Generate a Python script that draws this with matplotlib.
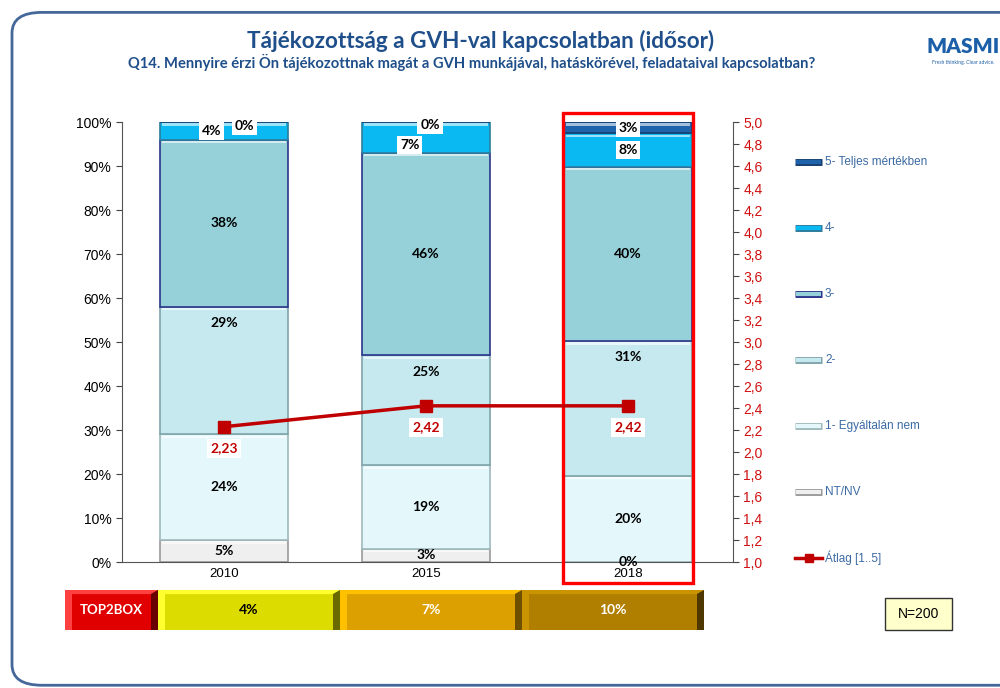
import matplotlib.pyplot as plt
from matplotlib.patches import Rectangle, FancyBboxPatch, Polygon
from matplotlib.lines import Line2D
import numpy as np

# data
years = ['2010', '2015', '2018']
labels = ['NT/NV', '1- Egyáltalán nem', '2-', '3-', '4-', '5- Teljes mértékben']
nt_nv = [5, 3, 0]
cat1 = [24, 19, 19.6]
cat2 = [29, 25, 30.6]
cat3 = [38, 46, 39.6]
cat4 = [4, 7, 7.6]
cat5 = [0, 0, 2.6]
atlag = [2.23, 2.42, 2.42]
n_text = 'N=200'

colors = ['#efefef', '#e4f8fb', '#c5e9ee', '#96d1d9', '#0ab8f2', '#1f63aa']
edges = ['#9a9a9a', '#9fb9bd', '#7fa4aa', '#2b3589', '#2d7c9c', '#163f70']
red = '#c00000'
blue_txt = '#3b6aa3'
title_col = '#1f4f8a'

data = np.array([nt_nv, cat1, cat2, cat3, cat4, cat5])
top2 = data[4] + data[5]

fig = plt.figure(figsize=(10, 6.88), dpi=100)
ax = fig.add_axes([0.122, 0.1831, 0.611, 0.6395])
x = np.arange(len(years))
w = 0.63

bottom = np.zeros(len(years))
# label nudges (series, year) -> (dx, dy)
nudge = {(4, 0): (-0.06, 0.0), (5, 0): (0.1, -1.0), (4, 1): (-0.08, -1.7), (5, 1): (0.02, -0.7)}
for i, vals in enumerate(data):
    ax.bar(x, vals, w, bottom=bottom, color=colors[i], edgecolor=edges[i], linewidth=1.2, zorder=2)
    # light bevel along the top of every segment
    ax.bar(x, np.minimum(vals, 0.5), w - 0.02, bottom=bottom + vals - np.minimum(vals, 0.5) - 0.3,
           color='white', alpha=0.6, linewidth=0, zorder=3)
    for j, v in enumerate(vals):
        if i == 2:
            yy = bottom[j] + v - 3.7
        else:
            yy = bottom[j] + v / 2
        dx, dy = nudge.get((i, j), (0, 0))
        ax.text(x[j] + dx, yy + dy, f'{v:.0f}%', ha='center', va='center', fontsize=10,
                fontweight='bold', family='Lato', zorder=5,
                bbox=dict(boxstyle='square,pad=0.2', fc='white', ec='none') if i >= 4 else None)
    bottom += vals

ax.set_xlim(-0.505, 2.52)
ax.set_ylim(0, 100)
ax.set_yticks(np.arange(0, 101, 10))
ax.set_yticklabels([f'{t}%' for t in range(0, 101, 10)], fontsize=10, family='Liberation Sans')
ax.set_xticks(x)
ax.set_xticklabels(years, fontsize=9.5, family='Liberation Sans')
ax.tick_params(axis='x', length=0, pad=4)
ax.tick_params(axis='y', length=4, direction='out', color='#444444')
for s in ['top', 'right']:
    ax.spines[s].set_visible(False)
ax.spines['left'].set_color('#555555')
ax.spines['bottom'].set_color('#555555')

ax2 = ax.twinx()
ax2.set_ylim(1, 5)
ticks2 = np.arange(1.0, 5.01, 0.2)
ax2.set_yticks(ticks2)
ax2.set_yticklabels([f'{t:.1f}'.replace('.', ',') for t in ticks2], color='#d01010',
                    fontsize=10, family='Liberation Sans')
ax2.tick_params(axis='y', length=4, color='#444444')
for s in ['top', 'left', 'bottom']:
    ax2.spines[s].set_visible(False)
ax2.spines['right'].set_color('#555555')
ax2.plot(x, atlag, color=red, lw=2.5, marker='s', markersize=8, zorder=4)
for j, v in enumerate(atlag):
    ax2.annotate(f'{v:.2f}'.replace('.', ','), (x[j], v), xytext=(0, -15.5), textcoords='offset points',
                 ha='center', va='center', color=red, fontsize=10, fontweight='bold', family='Lato',
                 bbox=dict(boxstyle='square,pad=0.25', fc='white', ec='none'))

# highlight 2018
ax.add_patch(Rectangle((2 - 0.322, -4.8), 0.644, 106.8, fill=False, ec='#ff0000', lw=2.4,
                       clip_on=False, zorder=6))

# titles
fig.text(0.481, 0.941, 'Tájékozottság a GVH-val kapcsolatban (idősor)', ha='center', va='center',
         fontsize=16.2, fontweight='bold', color=title_col, family='Lato')
fig.text(0.472, 0.909, 'Q14. Mennyire érzi Ön tájékozottnak magát a GVH munkájával, hatáskörével, '
         'feladataival kapcsolatban?', ha='center', va='center', fontsize=10.6, fontweight='bold',
         color=title_col, family='Lato')

# logo
fig.text(0.963, 0.933, 'MASMI', ha='center', va='center', fontsize=15, fontweight='heavy',
         color='#1a5fa8', family='Lato')
fig.text(0.963, 0.909, 'Fresh thinking. Clear advice.', ha='center', va='center', fontsize=3.6,
         color='#1d5fa6', family='Lato')

# legend
leg_items = list(zip(labels[::-1], colors[::-1], edges[::-1]))
for k, (lab, c, e) in enumerate(leg_items + [('Átlag [1..5]', red, red)]):
    yy = 1 - (162 + k * 66) / 688
    if k < len(leg_items):
        fig.add_artist(Line2D([0.795, 0.822], [yy, yy], color=e, lw=5, solid_capstyle='butt'))
        fig.add_artist(Line2D([0.796, 0.821], [yy, yy], color=c, lw=3, solid_capstyle='butt'))
    else:
        fig.add_artist(Line2D([0.795, 0.822], [yy, yy], color=c, lw=2.5))
        fig.add_artist(Line2D([0.8085], [yy], color=c, marker='s', markersize=6, lw=0))
    fig.text(0.825, yy, lab, ha='left', va='center', fontsize=8.5, color=blue_txt, family='Liberation Sans')

# TOP2BOX row with simple bevels
y0, h = 1 - 630 / 688, 40 / 688
bev = 0.007


def bevel_box(left, width, fc, light, dark):
    fig.add_artist(Rectangle((left, y0), width, h, fc=fc, ec='none'))
    fig.add_artist(Polygon([(left, y0), (left, y0 + h), (left + width, y0 + h),
                            (left + width - bev, y0 + h - 0.006), (left + bev, y0 + h - 0.006),
                            (left + bev, y0)], closed=True, fc=light, ec='none'))
    fig.add_artist(Polygon([(left + width, y0 + h), (left + width, y0), (left + width - bev, y0),
                            (left + width - bev, y0 + h - 0.006)], closed=True, fc=dark, ec='none'))


bevel_box(0.065, 0.093, '#e00000', '#ff4040', '#6a0000')
fig.text(0.1115, y0 + h / 2, 'TOP2BOX', ha='center', va='center', fontsize=9.5, fontweight='bold',
         color='white', family='Lato')
box_cols = ['#dcdc00', '#dca000', '#b07f00']
box_light = ['#ffff30', '#ffc000', '#c99400']
box_dark = ['#6a6a00', '#6e5000', '#4e3800']
txt_cols = ['black', 'white', 'white']
for j in range(len(years)):
    left = 0.158 + j * 0.182
    bevel_box(left, 0.182, box_cols[j], box_light[j], box_dark[j])
    fig.text(left + 0.091, y0 + h / 2, f'{top2[j]:.0f}%', ha='center', va='center', fontsize=10,
             fontweight='bold', color=txt_cols[j], family='Lato')

# N box
fig.add_artist(Rectangle((0.885, 1 - 630 / 688), 0.067, 32 / 688, fc='#ffffcc', ec='#333333', lw=1))
fig.text(0.9185, 1 - 614 / 688, n_text, ha='center', va='center', fontsize=10, family='Liberation Sans')

# slide frame
fig.add_artist(FancyBboxPatch((0.012, 0.004), 1.1, 0.978, boxstyle='round,pad=0,rounding_size=0.03',
                              fc='none', ec='#45679a', lw=2, transform=fig.transFigure))

fig.savefig('out.png', dpi=100)
